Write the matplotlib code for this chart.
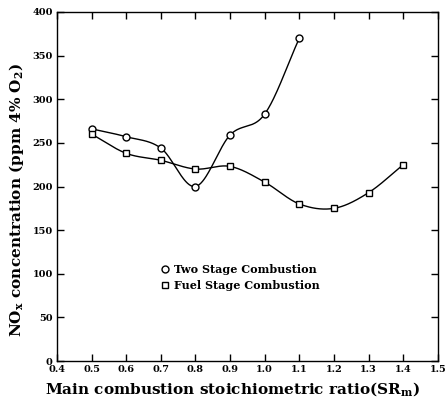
import numpy as np
import matplotlib.pyplot as plt

# Two stage combustion
sr_two = [0.5, 0.6, 0.7, 0.8, 0.9, 1.0, 1.1]
nox_two = [266, 257, 244, 200, 259, 283, 370]

# Fuel stage combustion
sr_fuel = [0.5, 0.6, 0.7, 0.8, 0.9, 1.0, 1.1, 1.2, 1.3, 1.4]
nox_fuel = [260, 238, 230, 220, 223, 205, 180, 175, 193, 225]

xticks = [0.4, 0.5, 0.6, 0.7, 0.8, 0.9, 1.0, 1.1, 1.2, 1.3, 1.4, 1.5]
yticks = [0, 50, 100, 150, 200, 250, 300, 350, 400]


def smooth_curve(x, y, n=40):
    # Catmull-Rom style cubic Hermite through the points
    x = np.asarray(x, float)
    y = np.asarray(y, float)
    k = len(x)
    m = np.zeros(k)
    m[1:-1] = (y[2:] - y[:-2]) / (x[2:] - x[:-2])
    m[0] = (y[1] - y[0]) / (x[1] - x[0])
    m[-1] = (y[-1] - y[-2]) / (x[-1] - x[-2])
    xs_all, ys_all = [], []
    for i in range(k - 1):
        h = x[i + 1] - x[i]
        t = np.linspace(0, 1, n)
        h00 = 2 * t**3 - 3 * t**2 + 1
        h10 = t**3 - 2 * t**2 + t
        h01 = -2 * t**3 + 3 * t**2
        h11 = t**3 - t**2
        xs_all.append(x[i] + t * h)
        ys_all.append(h00 * y[i] + h10 * h * m[i] + h01 * y[i + 1] + h11 * h * m[i + 1])
    return np.concatenate(xs_all), np.concatenate(ys_all)


plt.rcParams['font.family'] = 'DejaVu Serif'
plt.rcParams['font.weight'] = 'bold'

fig = plt.figure(figsize=(4.45, 4.09), dpi=100)
ax = fig.add_axes([0.128, 0.117, 0.856, 0.854])

xs, ys = smooth_curve(sr_two, nox_two)
ax.plot(xs, ys, color='black', lw=1.0)
xs, ys = smooth_curve(sr_fuel, nox_fuel)
ax.plot(xs, ys, color='black', lw=1.0)

ax.plot(sr_two, nox_two, 'o', ms=5, mfc='white', mec='black', mew=1.0,
        ls='none', label='Two Stage Combustion')
ax.plot(sr_fuel, nox_fuel, 's', ms=4.5, mfc='white', mec='black', mew=1.0,
        ls='none', label='Fuel Stage Combustion')

ax.set_xlim(0.4, 1.5)
ax.set_ylim(0, 400)
ax.set_xticks(xticks)
ax.set_xticklabels([f'{v:.1f}' for v in xticks])
ax.set_yticks(yticks)
ax.tick_params(direction='in', top=True, right=True, length=5, width=1,
               labelsize=7, pad=3)
for s in ax.spines.values():
    s.set_linewidth(1.0)

ax.set_xlabel('Main combustion stoichiometric ratio(SR$_\\mathregular{m}$)',
              fontsize=11, fontweight='bold')
ax.set_ylabel('NO$_\\mathregular{x}$ concentration (ppm 4% O$_\\mathregular{2}$)',
              fontsize=11, fontweight='bold')
ax.xaxis.set_label_coords(0.46, -0.055)
ax.yaxis.set_label_coords(-0.08, 0.46)

ax.legend(loc='center left', bbox_to_anchor=(0.255, 0.24), frameon=False,
          fontsize=8, handletextpad=0.3, labelspacing=0.45, handlelength=1.0,
          borderpad=0)

fig.savefig('out.png', dpi=100)
